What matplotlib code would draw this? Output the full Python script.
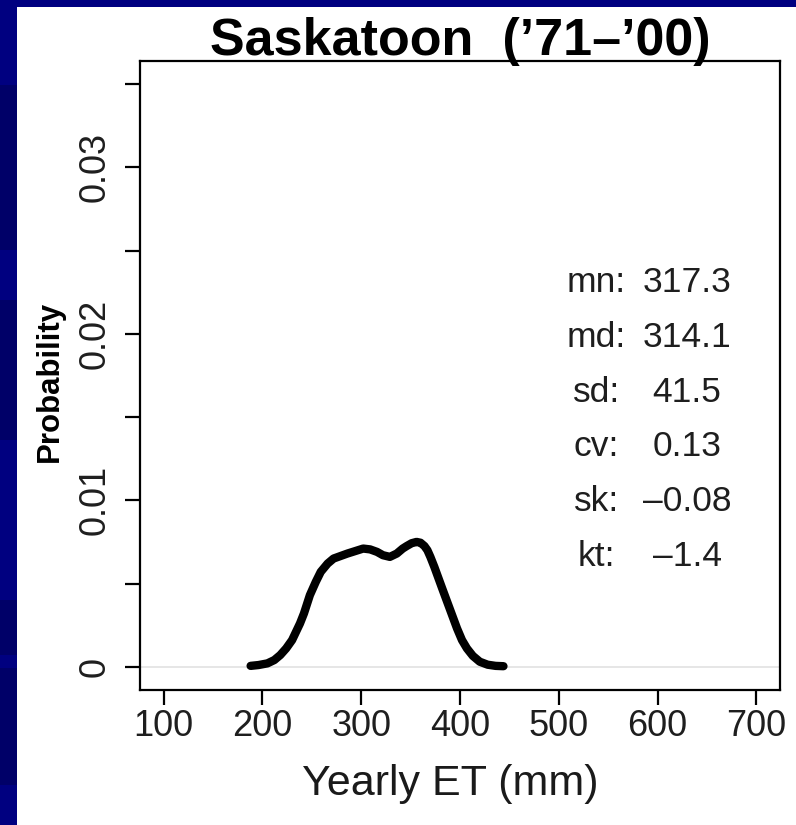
import matplotlib
matplotlib.use("Agg")
import matplotlib.pyplot as plt
from matplotlib.patches import Rectangle

# ---- data ----
et_x = [188, 196, 205, 212, 218, 224, 230, 234, 238, 242, 248, 254, 259, 266,
        272, 279, 286, 294, 302, 309, 316, 322, 329, 336, 342, 346, 351, 356,
        360, 364, 367, 370, 374, 378, 382, 387, 392, 397, 402, 407, 413, 420,
        428, 436, 444]
density_e3 = [0.05, 0.1, 0.2, 0.4, 0.7, 1.1, 1.6, 2.1, 2.6, 3.2, 4.3, 5.1, 5.7,
              6.2, 6.5, 6.65, 6.8, 6.95, 7.1, 7.05, 6.9, 6.7, 6.6, 6.8, 7.1,
              7.25, 7.42, 7.5, 7.45, 7.25, 7.0, 6.6, 6.0, 5.35, 4.7, 3.9, 3.1,
              2.3, 1.6, 1.1, 0.65, 0.3, 0.12, 0.05, 0.03]
density = [v / 1000.0 for v in density_e3]

x_ticks = [100, 200, 300, 400, 500, 600, 700]
y_ticks = [0, 0.005, 0.01, 0.015, 0.02, 0.025, 0.03, 0.035]
y_tick_labels = ["0", "", "0.01", "", "0.02", "", "0.03", ""]

stat_names = ["mn:", "md:", "sd:", "cv:", "sk:", "kt:"]
stat_values = ["317.3", "314.1", "41.5", "0.13", "\u20130.08", "\u20131.4"]
stat_y = [0.0231, 0.0198, 0.0165, 0.01325, 0.0099, 0.0066]

title = "Saskatoon  (\u201971\u2013\u201900)"
xlabel = "Yearly ET (mm)"
ylabel = "Probability"

# ---- figure ----
W, H = 796, 825
fig = plt.figure(figsize=(W / 100, H / 100), dpi=100)
fig.patch.set_facecolor("white")
plt.rcParams["font.family"] = ["Liberation Sans", "DejaVu Sans"]

# slide background strips (blue)
navy = "#000080"
dark = "#000068"
fig.add_artist(Rectangle((0, 0), 17 / W, 1, transform=fig.transFigure,
                         facecolor=navy, edgecolor="none", zorder=0))
fig.add_artist(Rectangle((0, 1 - 7 / H), 1, 7 / H, transform=fig.transFigure,
                         facecolor=navy, edgecolor="none", zorder=0))
for (y0, y1) in [(85, 250), (300, 440), (600, 655), (668, 785)]:
    fig.add_artist(Rectangle((0, 1 - y1 / H), 17 / W, (y1 - y0) / H,
                             transform=fig.transFigure, facecolor=dark,
                             edgecolor="none", zorder=0))

ax = fig.add_axes([140 / W, 1 - 690 / H, 640 / W, 629 / H])
ax.set_facecolor("white")
ax.set_xlim(76, 724)
ax.set_ylim(-0.0014, 0.0364)

ax.axhline(0, color="#e4e4e4", lw=1.3, zorder=1)
ax.plot(et_x, density, color="black", lw=6.0, solid_capstyle="round",
        solid_joinstyle="round", zorder=3)

for s in ax.spines.values():
    s.set_linewidth(1.6)
    s.set_color("black")

tick_col = "#1e1e1e"
ax.set_xticks(x_ticks)
ax.set_xticklabels([str(t) for t in x_ticks])
ax.set_yticks(y_ticks)
ax.set_yticklabels(y_tick_labels, rotation=90, va="center")
ax.tick_params(axis="x", length=11, width=1.6, pad=3, labelsize=26,
               labelcolor=tick_col)
ax.tick_params(axis="y", length=11, width=1.6, pad=9, labelsize=26,
               labelcolor=tick_col)

for name, val, yy in zip(stat_names, stat_values, stat_y):
    ax.text(538, yy, name, ha="center", va="center", fontsize=25.5,
            color=tick_col)
    ax.text(630, yy, val, ha="center", va="center", fontsize=25.5,
            color=tick_col)

fig.text(460 / W, 1 - 55 / H, title, ha="center", va="baseline",
         fontsize=37.5, fontweight="bold", color="black")
fig.text(450 / W, 1 - 795 / H, xlabel, ha="center", va="baseline",
         fontsize=31, color="#1a1a1a")
fig.text(50 / W, 1 - 381 / H, ylabel, ha="center", va="center",
         rotation=90, fontsize=22.5, fontweight="bold", color="black")

fig.savefig("out.png", dpi=100)
